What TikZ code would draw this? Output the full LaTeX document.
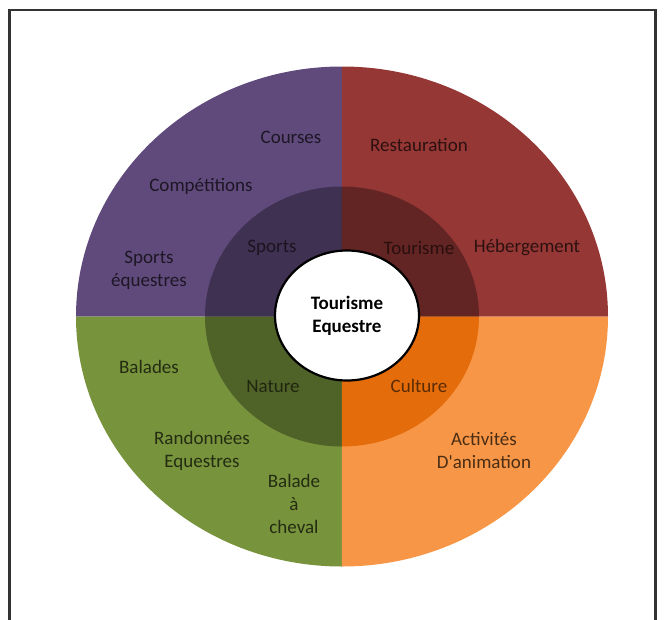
\documentclass[tikz,border=0pt]{standalone}
\usepackage{fontspec}
\setmainfont{Carlito}[Ligatures=TeXOff]
\definecolor{sportout}{HTML}{604A7B}
\definecolor{sportin}{HTML}{3F3151}
\definecolor{tourout}{HTML}{953735}
\definecolor{tourin}{HTML}{632523}
\definecolor{natout}{HTML}{77933C}
\definecolor{natin}{HTML}{4F6228}
\definecolor{cultout}{HTML}{F79646}
\definecolor{cultin}{HTML}{E46C0A}

\begin{document}
\begin{tikzpicture}[x=1pt, y=1pt, every node/.style={font=\fontsize{19}{23}\selectfont, align=center, inner sep=0pt}]
\useasboundingbox (-342,-302.5) rectangle (322,316.5);
\draw[line width=2.5pt, black!80] (-332.5,-330) -- (-332.5,306.5) -- (313.5,306.5) -- (313.5,-330);

% outer ring
\fill[sportout] (0,0) -- (0,250) arc[start angle=90, end angle=180, x radius=266, y radius=250] -- cycle;
\fill[tourout] (0,0) -- (266,0) arc[start angle=0, end angle=90, x radius=266, y radius=250] -- cycle;
\fill[natout] (0,0) -- (-266,0) arc[start angle=180, end angle=270, x radius=266, y radius=250] -- cycle;
\fill[cultout] (0,0) -- (0,-250) arc[start angle=270, end angle=360, x radius=266, y radius=250] -- cycle;
% inner ring
\fill[sportin] (0,0) -- (0,130) arc[start angle=90, end angle=180, x radius=137, y radius=130] -- cycle;
\fill[tourin] (0,0) -- (137,0) arc[start angle=0, end angle=90, x radius=137, y radius=130] -- cycle;
\fill[natin] (0,0) -- (-137,0) arc[start angle=180, end angle=270, x radius=137, y radius=130] -- cycle;
\fill[cultin] (0,0) -- (0,-130) arc[start angle=270, end angle=360, x radius=137, y radius=130] -- cycle;

\draw[line width=2.2pt, fill=white] (5,1) ellipse[x radius=72, y radius=65];
\node[font=\fontsize{19}{23}\selectfont\bfseries] (centre) at (5,1) {Tourisme\\Equestre};

\node[text=black!70!sportout] (courses) at (-51,179.5) {Courses};
\node[text=black!70!sportout] (compet) at (-141,130.5) {Compétitions};
\node[text=black!70!sportout] (sporteq) at (-193,46.5) {Sports\\équestres};
\node[text=black!60!sportin] (sports) at (-70,68.5) {Sports};

\node[text=black!70!tourout] (resto) at (77,171.5) {Restauration};
\node[text=black!70!tourout] (heberg) at (185,68.5) {Hébergement};
\node[text=black!60!tourin] (tourisme) at (77,68.5) {Tourisme};

\node[text=black!70!natout] (balades) at (-193,-50.5) {Balades};
\node[text=black!70!natout] (rando) at (-140,-134) {Randonnées\\Equestres};
\node[text=black!70!natout] (cheval) at (-48,-187.5) {Balade\\à\\cheval};
\node[text=black!60!natin] (nature) at (-69,-69.5) {Nature};

\node[text=black!70!cultout] (activ) at (142,-134) {Activités\\D'animation};
\node[text=black!60!cultin] (culture) at (77,-69.5) {Culture};
\end{tikzpicture}
\end{document}
